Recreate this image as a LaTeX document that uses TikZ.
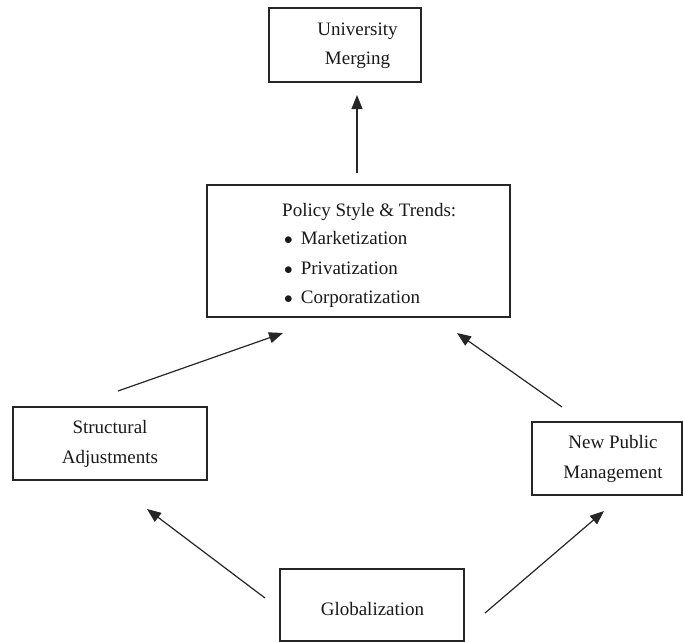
\documentclass[tikz,border=0pt]{standalone}
\usepackage{fontspec}
\setmainfont{Liberation Serif}
\usetikzlibrary{arrows.meta}
\begin{document}
\begin{tikzpicture}[x=1pt,y=-1pt,
  box/.style={draw=black!85, line width=1.3pt, minimum width=#1, inner sep=0pt},
  txt/.style={font=\fontsize{19}{29.5}\selectfont, align=center, inner sep=0pt, text=black!90},
  arr/.style={draw=black!85, line width=1.2pt, -{Triangle[length=14pt,width=11pt]}}]
\useasboundingbox (0,0) rectangle (683,642);
\clip (0,0) rectangle (683,642);
% boxes
\node[box=152pt, minimum height=74pt] (um) at (345,45) {};
\node[txt] (umt) at (357.5,46) {University\\Merging};
\node[box=303pt, minimum height=132pt] (pol) at (358.5,251) {};
\node[txt, anchor=base west] (polt) at (282,216) {Policy Style \& Trends:};
\node[txt, anchor=base west] (b1) at (284,244) {$\bullet$\hspace{8pt}Marketization};
\node[txt, anchor=base west] (b2) at (284,274) {$\bullet$\hspace{8pt}Privatization};
\node[txt, anchor=base west] (b3) at (284,303) {$\bullet$\hspace{8pt}Corporatization};
\node[box=194pt, minimum height=73pt] (sa) at (110,443.5) {};
\node[txt] (sat) at (110,444) {Structural\\Adjustments};
\node[box=150pt, minimum height=73pt] (npm) at (607,458.5) {};
\node[txt] (npmt) at (613,459) {New Public\\Management};
\node[box=184pt, minimum height=72pt] (glo) at (372,605) {};
\node[txt] (glot) at (372.5,609) {Globalization};
% arrow end points
\coordinate (a1s) at (357,173);
\coordinate (a1e) at (357,95);
\coordinate (a2s) at (118,391);
\coordinate (a2e) at (283,333);
\coordinate (a3s) at (562,407);
\coordinate (a3e) at (457,333);
\coordinate (a4s) at (265,598);
\coordinate (a4e) at (147,509);
\coordinate (a5s) at (485,613);
\coordinate (a5e) at (604,511);
\draw[arr] (a1s) -- (a1e);
\draw[arr] (a2s) -- (a2e);
\draw[arr] (a3s) -- (a3e);
\draw[arr] (a4s) -- (a4e);
\draw[arr] (a5s) -- (a5e);
\end{tikzpicture}
\end{document}
